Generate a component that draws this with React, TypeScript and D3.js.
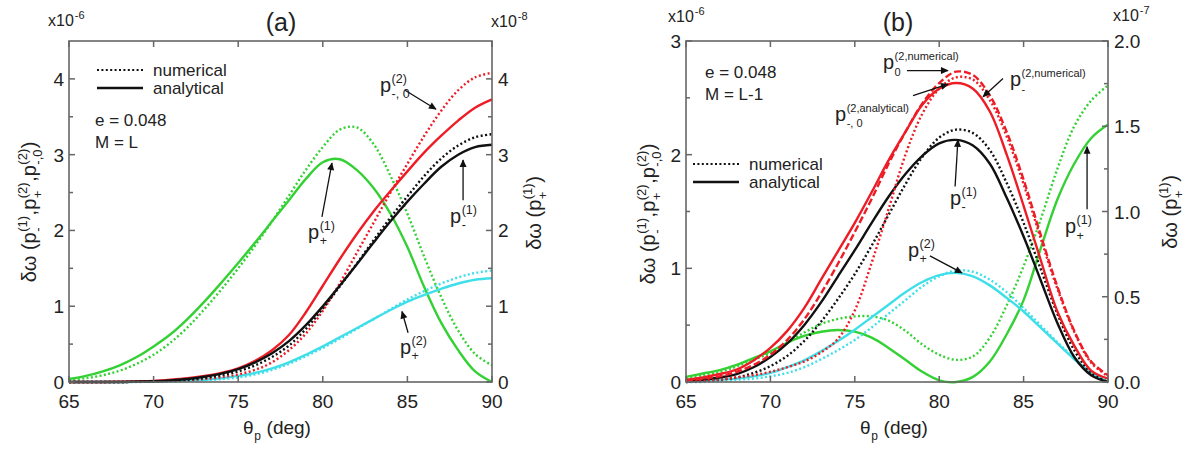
import React from "react";
import * as d3 from "d3";

const FONT = "Arial, 'Liberation Sans', Helvetica, sans-serif";

const THETA = [65, 66, 67, 68, 69, 70, 71, 72, 73, 74, 75, 76, 77, 78, 79, 80, 81, 82, 83, 84, 85, 86, 87, 88, 89, 90];
const X_TICKS = [65, 70, 75, 80, 85, 90];

// panel (a): left axis x10^-6, right axis x10^-8
const A_BLACK_SOLID = [0, 0, 0, 0, 0.005, 0.01, 0.02, 0.04, 0.07, 0.11, 0.17, 0.26, 0.38, 0.54, 0.75, 1.0, 1.27, 1.55, 1.84, 2.12, 2.38, 2.62, 2.84, 3.0, 3.1, 3.13];
const A_BLACK_DOT = [0, 0, 0, 0, 0.003, 0.008, 0.015, 0.03, 0.055, 0.09, 0.14, 0.22, 0.33, 0.48, 0.7, 0.97, 1.26, 1.56, 1.87, 2.17, 2.45, 2.72, 2.95, 3.12, 3.23, 3.27];
const A_RED_SOLID = [0, 0, 0, 0.003, 0.008, 0.015, 0.03, 0.05, 0.08, 0.12, 0.18, 0.28, 0.42, 0.62, 0.92, 1.27, 1.62, 1.95, 2.25, 2.52, 2.78, 3.03, 3.25, 3.45, 3.62, 3.73];
const A_RED_DOT = [0, 0, 0, 0, 0.003, 0.008, 0.015, 0.025, 0.04, 0.065, 0.1, 0.16, 0.26, 0.42, 0.64, 0.94, 1.3, 1.7, 2.1, 2.5, 2.88, 3.25, 3.58, 3.85, 4.02, 4.08];
const A_CYAN_SOLID = [0, 0, 0, 0, 0.002, 0.005, 0.01, 0.02, 0.03, 0.05, 0.08, 0.12, 0.18, 0.26, 0.36, 0.47, 0.59, 0.71, 0.83, 0.95, 1.06, 1.15, 1.23, 1.3, 1.35, 1.37];
const A_CYAN_DOT = [0, 0, 0, 0, 0, 0.003, 0.007, 0.013, 0.022, 0.038, 0.06, 0.1, 0.16, 0.24, 0.34, 0.45, 0.57, 0.7, 0.83, 0.96, 1.09, 1.2, 1.3, 1.38, 1.44, 1.47];
const A_GREEN_SOLID = [0.04, 0.08, 0.14, 0.22, 0.33, 0.47, 0.63, 0.83, 1.06, 1.31, 1.57, 1.84, 2.12, 2.4, 2.68, 2.9, 2.94, 2.8, 2.56, 2.22, 1.78, 1.25, 0.78, 0.42, 0.14, 0.0];
const A_GREEN_DOT = [0.03, 0.05, 0.09, 0.15, 0.24, 0.36, 0.52, 0.72, 0.96, 1.22, 1.5, 1.8, 2.12, 2.46, 2.8, 3.1, 3.33, 3.36, 3.14, 2.72, 2.22, 1.65, 1.12, 0.68, 0.37, 0.22];

// panel (b): left axis x10^-6, right axis x10^-7
const B_RED_SOLID = [0.02, 0.04, 0.07, 0.11, 0.19, 0.3, 0.45, 0.65, 0.9, 1.15, 1.4, 1.67, 1.95, 2.2, 2.44, 2.58, 2.63, 2.58, 2.38, 2.0, 1.55, 1.08, 0.62, 0.32, 0.1, 0.03];
const B_RED_DASH = [0.01, 0.03, 0.05, 0.09, 0.15, 0.24, 0.37, 0.55, 0.78, 1.04, 1.32, 1.61, 1.92, 2.2, 2.45, 2.63, 2.73, 2.7, 2.52, 2.2, 1.78, 1.3, 0.84, 0.45, 0.18, 0.06];
const B_RED_DOT = [0, 0.01, 0.02, 0.04, 0.06, 0.09, 0.13, 0.18, 0.26, 0.38, 0.63, 1.05, 1.52, 2.0, 2.36, 2.58, 2.68, 2.66, 2.48, 2.16, 1.74, 1.27, 0.82, 0.44, 0.17, 0.05];
const B_BLACK_SOLID = [0.01, 0.02, 0.04, 0.07, 0.13, 0.22, 0.34, 0.5, 0.7, 0.93, 1.16, 1.4, 1.63, 1.83, 1.99, 2.1, 2.13, 2.08, 1.92, 1.62, 1.28, 0.9, 0.52, 0.22, 0.06, 0.0];
const B_BLACK_DOT = [0, 0.01, 0.02, 0.04, 0.08, 0.14, 0.23, 0.36, 0.53, 0.73, 0.95, 1.2, 1.47, 1.74, 1.98, 2.15, 2.22, 2.19, 2.04, 1.75, 1.4, 1.0, 0.6, 0.28, 0.08, 0.0];
const B_CYAN_SOLID = [0, 0.01, 0.02, 0.03, 0.05, 0.08, 0.13, 0.19, 0.27, 0.36, 0.46, 0.57, 0.68, 0.79, 0.88, 0.94, 0.96, 0.93, 0.85, 0.74, 0.62, 0.48, 0.34, 0.2, 0.08, 0.0];
const B_CYAN_DOT = [0, 0, 0.01, 0.02, 0.03, 0.05, 0.08, 0.13, 0.2, 0.28, 0.37, 0.48, 0.6, 0.72, 0.84, 0.93, 0.98, 0.97, 0.9, 0.79, 0.65, 0.5, 0.35, 0.21, 0.08, 0.0];
const B_GREEN_SOLID = [0.03, 0.05, 0.07, 0.1, 0.14, 0.18, 0.23, 0.27, 0.295, 0.305, 0.295, 0.26, 0.2, 0.13, 0.06, 0.01, 0.0, 0.03, 0.12, 0.28, 0.48, 0.78, 1.07, 1.28, 1.43, 1.51];
const B_GREEN_DOT = [0.02, 0.04, 0.06, 0.09, 0.13, 0.17, 0.23, 0.29, 0.34, 0.37, 0.385, 0.385, 0.36, 0.3, 0.22, 0.16, 0.13, 0.15, 0.26, 0.45, 0.68, 0.95, 1.25, 1.5, 1.65, 1.74];

const RED = "#ee1c25";
const GREEN = "#33d133";
const CYAN = "#3fdfea";
const BLACK = "#111";
const AXIS = "#666";
const TXT = "#222";

const DOT = "2,2.4";
const DASH = "7,3";

// Arial / Liberation Sans advance widths (em)
const CW: Record<string, number> = {
  "(": 0.333, ")": 0.333, ",": 0.278, "-": 0.333, "+": 0.584, " ": 0.278, ".": 0.278,
  p: 0.556, a: 0.556, n: 0.556, l: 0.222, y: 0.5, t: 0.278, i: 0.222, c: 0.5, u: 0.556,
  m: 0.833, e: 0.556, r: 0.333, g: 0.556, d: 0.556, x: 0.5, "δ": 0.556, "ω": 0.78, "θ": 0.556,
};
const tw = (s: string, size: number) => {
  let w = 0;
  for (const c of s) w += CW[c] ?? 0.556;
  return w * size;
};

type Part = { t: string; sup?: string; sub?: string };

function MathText({ x, y, parts, size, small, anchor = "start", rotate = 0 }: {
  x: number; y: number; parts: Part[]; size: number; small?: number; anchor?: string; rotate?: number;
}) {
  const sm = small ?? size * 0.62;
  let cur = 0;
  const items: any[] = [];
  parts.forEach((p, i) => {
    items.push(<text key={i + "b"} x={cur} y={0} fontSize={size} style={{ whiteSpace: "pre" }}>{p.t}</text>);
    cur += tw(p.t, size);
    if (p.sup || p.sub) {
      if (p.sup) items.push(<text key={i + "p"} x={cur + 0.5} y={-size * 0.45} fontSize={sm} style={{ whiteSpace: "pre" }}>{p.sup}</text>);
      if (p.sub) items.push(<text key={i + "s"} x={cur + 0.5} y={size * 0.32} fontSize={sm} style={{ whiteSpace: "pre" }}>{p.sub}</text>);
      cur += Math.max(tw(p.sup ?? "", sm), tw(p.sub ?? "", sm)) + 1;
    }
  });
  const off = anchor === "middle" ? -cur / 2 : anchor === "end" ? -cur : 0;
  return (
    <g transform={`translate(${x},${y}) rotate(${rotate}) translate(${off},0)`} fontFamily={FONT} fill={TXT}>
      {items}
    </g>
  );
}

type Series = { values: number[]; color: string; dash?: string; axis: "L" | "R" };
type Note = { parts: Part[]; at: [number, number]; from: [number, number]; to: [number, number]; small?: number };

const panels = [
  {
    key: "a",
    left: 69, right: 492, top: 41, bottom: 382,
    leftDomain: [0, 4.5], rightDomain: [0, 4.5],
    leftMajor: [0, 1, 2, 3, 4], leftLabels: ["0", "1", "2", "3", "4"], leftMinor: [0.5, 1.5, 2.5, 3.5],
    rightMajor: [0, 1, 2, 3, 4], rightLabels: ["0", "1", "2", "3", "4"], rightMinor: [0.5, 1.5, 2.5, 3.5],
    title: "(a)", titleX: 281,
    expL: { x: 48, y: 26, e: "-6" }, expR: { x: 491, y: 27, e: "-8" },
    info: { x: 95, y: 126, lines: ["e = 0.048", "M = L"] },
    legend: { x: 97, y: 70 },
    series: [
      { values: A_GREEN_DOT, color: GREEN, dash: DOT, axis: "R" },
      { values: A_GREEN_SOLID, color: GREEN, axis: "R" },
      { values: A_CYAN_DOT, color: CYAN, dash: DOT, axis: "L" },
      { values: A_CYAN_SOLID, color: CYAN, axis: "L" },
      { values: A_RED_DOT, color: RED, dash: DOT, axis: "L" },
      { values: A_RED_SOLID, color: RED, axis: "L" },
      { values: A_BLACK_DOT, color: BLACK, dash: DOT, axis: "L" },
      { values: A_BLACK_SOLID, color: BLACK, axis: "L" },
    ] as Series[],
    notes: [
      { parts: [{ t: "p", sup: "(2)", sub: "-, 0" }], at: [83.38, 3.83], from: [84.86, 3.85], to: [86.69, 3.6] },
      { parts: [{ t: "p", sup: "(1)", sub: "+" }], at: [79.13, 1.89], from: [79.95, 2.18], to: [80.54, 2.89] },
      { parts: [{ t: "p", sup: "(1)", sub: "-" }], at: [87.52, 2.1], from: [88.29, 2.4], to: [88.29, 2.93] },
      { parts: [{ t: "p", sup: "(2)", sub: "+" }], at: [84.56, 0.37], from: [85.04, 0.65], to: [84.68, 0.93] },
    ] as Note[],
    yLabelL: { x: 36, y: 212 }, yLabelR: { x: 541, y: 213 }, xLabelX: 277,
  },
  {
    key: "b",
    left: 686, right: 1108, top: 41, bottom: 382,
    leftDomain: [0, 3], rightDomain: [0, 2],
    leftMajor: [0, 1, 2, 3], leftLabels: ["0", "1", "2", "3"], leftMinor: [0.5, 1.5, 2.5],
    rightMajor: [0, 0.5, 1, 1.5, 2], rightLabels: ["0.0", "0.5", "1.0", "1.5", "2.0"], rightMinor: [0.25, 0.75, 1.25, 1.75],
    title: "(b)", titleX: 898,
    expL: { x: 668, y: 22, e: "-6" }, expR: { x: 1113, y: 21, e: "-7" },
    info: { x: 705, y: 78, lines: ["e = 0.048", "M = L-1"] },
    legend: { x: 693, y: 164 },
    series: [
      { values: B_GREEN_DOT, color: GREEN, dash: DOT, axis: "R" },
      { values: B_GREEN_SOLID, color: GREEN, axis: "R" },
      { values: B_CYAN_DOT, color: CYAN, dash: DOT, axis: "L" },
      { values: B_CYAN_SOLID, color: CYAN, axis: "L" },
      { values: B_BLACK_DOT, color: BLACK, dash: DOT, axis: "L" },
      { values: B_BLACK_SOLID, color: BLACK, axis: "L" },
      { values: B_RED_DOT, color: RED, dash: DOT, axis: "L" },
      { values: B_RED_DASH, color: RED, dash: DASH, axis: "L" },
      { values: B_RED_SOLID, color: RED, axis: "L" },
    ] as Series[],
    notes: [
      { parts: [{ t: "p", sup: "(2,numerical)", sub: "0" }], at: [76.67, 2.75], from: [78.09, 2.74], to: [80.52, 2.74], small: 11 },
      { parts: [{ t: "p", sup: "(2,analytical)", sub: "-, 0" }], at: [73.83, 2.3], from: [78.45, 2.52], to: [80.52, 2.62], small: 11 },
      { parts: [{ t: "p", sup: "(2,numerical)", sub: "-" }], at: [84.19, 2.6], from: [83.78, 2.67], to: [82.6, 2.51], small: 11 },
      { parts: [{ t: "p", sup: "(1)", sub: "-" }], at: [80.64, 1.56], from: [80.94, 1.72], to: [81.11, 2.13] },
      { parts: [{ t: "p", sup: "(2)", sub: "+" }], at: [78.15, 1.1], from: [79.45, 1.11], to: [81.35, 0.96] },
      { parts: [{ t: "p", sup: "(1)", sub: "+" }], at: [87.45, 1.31], from: [88.76, 1.52], to: [88.76, 2.07] },
    ] as Note[],
    yLabelL: { x: 655, y: 214 }, yLabelR: { x: 1177, y: 212 }, xLabelX: 894,
  },
];

function Panel({ p }: { p: (typeof panels)[number] }) {
  const x = d3.scaleLinear().domain([65, 90]).range([p.left, p.right]);
  const yL = d3.scaleLinear().domain(p.leftDomain).range([p.bottom, p.top]);
  const yR = d3.scaleLinear().domain(p.rightDomain).range([p.bottom, p.top]);
  const mk = (s: Series) =>
    d3.line<number>()
      .x((_, i) => x(THETA[i]))
      .y((d) => (s.axis === "L" ? yL(d) : yR(d)))
      .curve(d3.curveCatmullRom.alpha(0.5))(s.values) ?? "";

  const tickFs = 19;
  return (
    <g>
      {p.series.map((s, i) => (
        <path key={i} d={mk(s)} fill="none" stroke={s.color} strokeWidth={2.4}
          strokeDasharray={s.dash} strokeLinejoin="round" />
      ))}

      {/* frame */}
      <rect x={p.left} y={p.top} width={p.right - p.left} height={p.bottom - p.top}
        fill="none" stroke={AXIS} strokeWidth={1.6} />

      {/* x ticks (inward, bottom and top) */}
      {X_TICKS.map((t) => (
        <g key={"xt" + t}>
          <line x1={x(t)} x2={x(t)} y1={p.bottom} y2={p.bottom - 6} stroke={AXIS} strokeWidth={1.5} />
          <line x1={x(t)} x2={x(t)} y1={p.top} y2={p.top + 6} stroke={AXIS} strokeWidth={1.5} />
          <text x={x(t)} y={p.bottom + 26} textAnchor="middle" fontSize={tickFs} fontFamily={FONT} fill={TXT}>{t}</text>
        </g>
      ))}

      {/* left axis */}
      {p.leftMajor.map((t, i) => (
        <g key={"yl" + t}>
          <line x1={p.left} x2={p.left + 6} y1={yL(t)} y2={yL(t)} stroke={AXIS} strokeWidth={1.5} />
          <text x={p.left - 5} y={yL(t) + 7} textAnchor="end" fontSize={tickFs} fontFamily={FONT} fill={TXT}>{p.leftLabels[i]}</text>
        </g>
      ))}
      {p.leftMinor.map((t) => (
        <line key={"ylm" + t} x1={p.left} x2={p.left + 4} y1={yL(t)} y2={yL(t)} stroke={AXIS} strokeWidth={1.5} />
      ))}

      {/* right axis */}
      {p.rightMajor.map((t, i) => (
        <g key={"yr" + t}>
          <line x1={p.right} x2={p.right - 6} y1={yR(t)} y2={yR(t)} stroke={AXIS} strokeWidth={1.5} />
          <text x={p.right + 6} y={yR(t) + 7} textAnchor="start" fontSize={tickFs} fontFamily={FONT} fill={TXT}>{p.rightLabels[i]}</text>
        </g>
      ))}
      {p.rightMinor.map((t) => (
        <line key={"yrm" + t} x1={p.right} x2={p.right - 4} y1={yR(t)} y2={yR(t)} stroke={AXIS} strokeWidth={1.5} />
      ))}

      {/* title and exponents */}
      <text x={p.titleX} y={31} textAnchor="middle" fontSize={25} fontFamily={FONT} fill={TXT}>{p.title}</text>
      <MathText x={p.expL.x} y={p.expL.y} size={16} small={11} parts={[{ t: "x10" }]} />
      <text x={p.expL.x + tw("x10", 16) + 1} y={p.expL.y - 7} fontSize={11} fontFamily={FONT} fill={TXT}>{p.expL.e}</text>
      <MathText x={p.expR.x} y={p.expR.y} size={16} small={11} parts={[{ t: "x10" }]} />
      <text x={p.expR.x + tw("x10", 16) + 1} y={p.expR.y - 7} fontSize={11} fontFamily={FONT} fill={TXT}>{p.expR.e}</text>

      {/* info text */}
      {p.info.lines.map((l, i) => (
        <text key={l} x={p.info.x} y={p.info.y + i * 22} fontSize={17} fontFamily={FONT} fill={TXT}>{l}</text>
      ))}

      {/* legend */}
      <line x1={p.legend.x} x2={p.legend.x + 46} y1={p.legend.y} y2={p.legend.y} stroke={BLACK} strokeWidth={2.2} strokeDasharray={DOT} />
      <text x={p.legend.x + 56} y={p.legend.y + 6} fontSize={17} fontFamily={FONT} fill={TXT}>numerical</text>
      <line x1={p.legend.x} x2={p.legend.x + 46} y1={p.legend.y + 18} y2={p.legend.y + 18} stroke={BLACK} strokeWidth={2.6} />
      <text x={p.legend.x + 56} y={p.legend.y + 24} fontSize={17} fontFamily={FONT} fill={TXT}>analytical</text>

      {/* annotations */}
      {p.notes.map((n, i) => (
        <g key={"n" + i}>
          <MathText x={x(n.at[0])} y={yL(n.at[1])} size={20} small={n.small ?? 12.5} parts={n.parts} />
          <line x1={x(n.from[0])} y1={yL(n.from[1])} x2={x(n.to[0])} y2={yL(n.to[1])}
            stroke={BLACK} strokeWidth={1.3} markerEnd="url(#arrow)" />
        </g>
      ))}

      {/* axis labels */}
      <MathText x={p.xLabelX} y={434} size={19} small={12} anchor="middle"
        parts={[{ t: "θ", sub: "p" }, { t: " (deg)" }]} />
      <MathText x={p.yLabelL.x} y={p.yLabelL.y} size={20} small={13} anchor="middle" rotate={-90}
        parts={[{ t: "δω (p", sup: "(1)", sub: "-" }, { t: ",p", sup: "(2)", sub: "+" }, { t: ",p", sup: "(2)", sub: "-,0" }, { t: ")" }]} />
      <MathText x={p.yLabelR.x} y={p.yLabelR.y} size={20} small={13} anchor="middle" rotate={-90}
        parts={[{ t: "δω (p", sup: "(1)", sub: "+" }, { t: ")" }]} />
    </g>
  );
}

export default function App() {
  return (
    <svg width={1190} height={449} style={{ position: "absolute", left: 0, top: 0, background: "#fff" }}>
      <defs>
        <marker id="arrow" viewBox="0 0 10 10" refX={9} refY={5} markerWidth={7} markerHeight={6}
          orient="auto" markerUnits="strokeWidth">
          <path d="M0,0.5 L10,5 L0,9.5 z" fill={BLACK} />
        </marker>
      </defs>
      <rect width={1190} height={449} fill="#fff" />
      {panels.map((p) => (
        <Panel key={p.key} p={p} />
      ))}
    </svg>
  );
}
